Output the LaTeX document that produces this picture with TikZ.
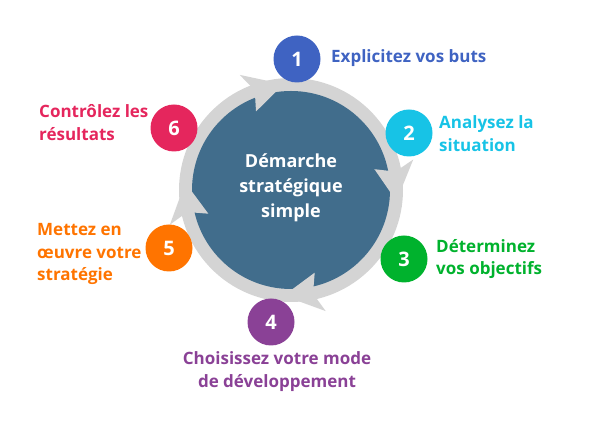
\documentclass[tikz,border=0pt]{standalone}
\usepackage{fontspec}
\setmainfont{Open Sans}
\usetikzlibrary{calc}
\definecolor{stepOne}{HTML}{3F63C2}
\definecolor{stepTwo}{HTML}{17C3E6}
\definecolor{stepThree}{HTML}{00B22D}
\definecolor{stepFour}{HTML}{8A4196}
\definecolor{stepFive}{HTML}{FF7400}
\definecolor{stepSix}{HTML}{E5265D}
\definecolor{hub}{HTML}{416D8C}
\definecolor{ring}{HTML}{D4D4D4}
\tikzset{
	num/.style={circle, fill=#1, minimum size=47pt, inner sep=0pt, text=white, font=\bfseries\fontsize{20}{20}\selectfont},
	lbl/.style={text=#1, font=\bfseries\fontsize{17}{22.5}\selectfont, inner sep=0pt},
}

\begin{document}
\begin{tikzpicture}[x=1pt, y=1pt]
		\useasboundingbox(0, 0)rectangle(600, 425);
		\coordinate(o)at(291, 235);
		\fill[ring](o)circle(112);
		\fill[hub](o)circle(99);
		\foreach \a in {114, 14, -74, 196}
			\fill[ring]($(o)+(\a:126)$)--($(o)+(\a-20:106)$)--($(o)+(\a:86)$)--($(o)+(\a-4:106)$)--cycle;
		\node[text=white, align=center, font=\bfseries\fontsize{18}{25}\selectfont](mid)at(291, 237){Démarche\\stratégique\\simple};
		\node[num=stepOne](n1)at(297, 366){1};
		\node[num=stepTwo](n2)at(409, 292){2};
		\node[num=stepThree](n3)at(404, 166){3};
		\node[num=stepFour](n4)at(271, 103){4};
		\node[num=stepFive](n5)at(169, 177){5};
		\node[num=stepSix](n6)at(174, 297){6};
		\node[lbl=stepOne, anchor=west](t1)at(331, 367){Explicitez vos buts};
		\node[lbl=stepTwo, anchor=west, align=left](t2)at(439, 291.5){Analysez la\\situation};
		\node[lbl=stepThree, anchor=west, align=left](t3)at(436, 166){Déterminez\\vos objectifs};
		\node[lbl=stepFour, align=center](t4)at(277, 53.5){Choisissez votre mode\\de développement};
		\node[lbl=stepFive, anchor=west, align=left](t5)at(37, 171){Mettez en\\œuvre votre\\stratégie};
		\node[lbl=stepSix, anchor=west, align=left](t6)at(39, 302.5){Contrôlez les\\résultats};
	\end{tikzpicture}
\end{document}
